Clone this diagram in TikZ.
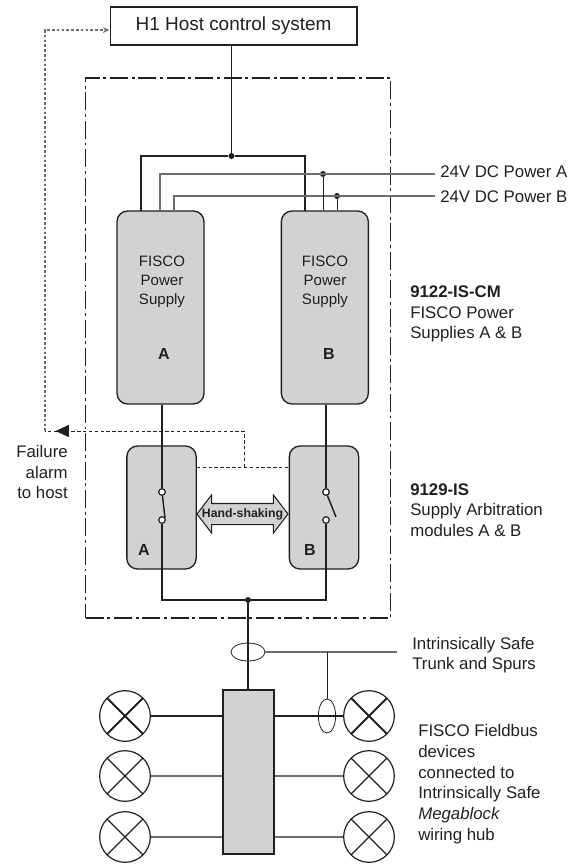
\documentclass[tikz,border=0pt]{standalone}
\usepackage{fontspec}
\setmainfont{Liberation Sans}
\usetikzlibrary{arrows.meta, positioning, shapes.geometric, shapes.arrows}
\definecolor{boxgrey}{HTML}{D1D2D4}
\definecolor{ink}{HTML}{231F20}
\definecolor{feedgrey}{HTML}{6D6E71}

\begin{document}
\begin{tikzpicture}[
  x=0.75pt, y=-0.75pt,
  node distance=57pt and 57pt,
  every node/.style={font=\fontsize{12.6}{15.5}\selectfont, text=ink},
  hostbox/.style={rectangle, draw=ink, line width=1pt, minimum width=185pt, minimum height=28.5pt},
  frame/.style={rectangle, draw=ink, line width=0.9pt, dash pattern=on 13.5pt off 2.8pt on 2.2pt off 2.8pt, minimum width=228.75pt, minimum height=405pt},
  supply/.style={rectangle, draw=ink, fill=boxgrey, line width=1pt, rounded corners=8pt, minimum width=65.25pt, minimum height=144.75pt, align=center},
  arbiter/.style={rectangle, draw=ink, fill=boxgrey, line width=1pt, rounded corners=8pt, minimum width=52pt, minimum height=92.25pt},
  hub/.style={rectangle, draw=ink, fill=boxgrey, line width=1.1pt, minimum width=38.25pt, minimum height=123pt},
  contact/.style={circle, draw=ink, fill=white, line width=0.8pt, inner sep=0pt, minimum size=4.8pt},
  junction/.style={circle, fill=ink, inner sep=0pt, minimum size=4.5pt},
  device/.style={circle, draw=ink, line width=0.9pt, inner sep=0pt, minimum size=38pt,
    path picture={\draw[ink, line width=#1] (path picture bounding box.north west) -- (path picture bounding box.south east)
      (path picture bounding box.north east) -- (path picture bounding box.south west);}},
  ring/.style={ellipse, draw=ink, line width=0.6pt, inner sep=0pt},
  wire/.style={draw=ink, line width=1.1pt},
  heavy/.style={draw=ink, line width=1.5pt},
  feed/.style={draw=feedgrey, line width=0.8pt},
  thinwire/.style={draw=ink, line width=0.7pt},
  signal/.style={draw=ink, line width=0.6pt, dash pattern=on 2.6pt off 1.8pt},
  hostlink/.style={draw=feedgrey, line width=0.8pt, dash pattern=on 2pt off 1.6pt},
  label/.style={align=left, anchor=west, inner sep=0pt},
  tag/.style={font=\fontsize{12}{14}\selectfont\bfseries, inner sep=0pt},
  boxtext/.style={align=center, font=\fontsize{11.3}{14.4}\selectfont}
]
\useasboundingbox (0,0) rectangle (583,864);

% Enclosure and host
\node[frame] (enclosure) at (238,348) {};
\node[hostbox, font=\fontsize{14.2}{16}\selectfont] (host) at (233.5,26) {H1 Host control system};

% Power supplies
\node[supply] (psA) at (160.5,307.5) {};
\node[supply, right=of psA] (psB) {};
\node[boxtext] (psAtext) at (162,282) {FISCO\\Power\\Supply};
\node[boxtext] (psBtext) at (325,282) {FISCO\\Power\\Supply};
\node[tag] (psAtag) at (164,354) {A};
\node[tag] (psBtag) at (329,354) {B};

% Arbitration modules
\node[arbiter] (arbA) at (161.5,507.5) {};
\node[arbiter] (arbB) at (324,507.5) {};
\node[tag] (arbAtag) at (144,550) {A};
\node[tag] (arbBtag) at (310,550) {B};
\node[double arrow, draw=ink, fill=boxgrey, line width=0.8pt, inner sep=0pt, double arrow head extend=6.4pt,
  double arrow tip angle=105, minimum height=68.25pt, minimum width=27.75pt] (shake) at (242.5,514) {\rule{0pt}{15pt}};
\node[font=\fontsize{9.2}{11}\selectfont\bfseries, inner sep=0pt] (shaketext) at (shake) {Hand-shaking};

% Bus and supply inputs
\coordinate (busL) at (141,211);
\coordinate (busR) at (305,211);
\coordinate (feedA) at (160,211);
\coordinate (feedB) at (174,211);
\coordinate (powerA) at (435,174);
\coordinate (powerB) at (435,196);
\node[junction] (hostdot) at (231.5,156) {};
\node[junction] (dotA) at (323,174) {};
\node[junction] (dotB) at (337,196) {};
\draw[wire] (host.south -| hostdot) -- (hostdot);
\draw[heavy] (busL) |- (hostdot) -| (busR);
\draw[feed] (feedA) |- (powerA);
\draw[feed] (feedB) |- (powerB);
\draw[thinwire] (dotA) -- (dotA |- psB.north);
\draw[thinwire] (dotB) -- (dotB |- psB.north);

% Switches
\node[contact] (swA1) at (162,492) {};
\node[contact] (swA2) at (162,520) {};
\node[contact] (swB1) at (326,492) {};
\node[contact] (swB2) at (326,520) {};
\coordinate (bladeA) at (165,518);
\coordinate (bladeB) at (336,517);
\node[junction] (outdot) at (248,600) {};
\draw[wire] (psA.south -| swA1) -- (swA1);
\draw[wire] (psB.south -| swB1) -- (swB1);
\draw[wire] (swA1) -- (bladeA);
\draw[wire] (swB1) -- (bladeB);
\draw[wire] (swA2) |- (outdot);
\draw[wire] (swB2) |- (outdot);
\node[contact] at (swA1) {};
\node[contact] at (swA2) {};
\node[contact] at (swB1) {};
\node[contact] at (swB2) {};

% Failure alarm
\coordinate (tap) at (244,467);
\coordinate (tip) at (55,431);
\coordinate (corner) at (45,431);
\draw[signal] (arbA.east |- tap) -- (arbB.west |- tap);
\draw[signal] (tap) |- (corner);
\node[isosceles triangle, isosceles triangle apex angle=50, shape border rotate=180, fill=ink, inner sep=0pt, minimum height=10pt, anchor=apex] (alarmtip) at (tip) {};
\draw[hostlink, -{Stealth[length=5pt, width=4.5pt]}] (corner) |- (host.west |- 0,30);

% Hub and devices
\node[hub] (hubbox) at (248.5,772) {};
\foreach \name/\x/\y/\w in {devL1/125/716/1.5pt, devL2/125/776/0.9pt, devL3/125/837/0.9pt,
  devR1/369/716/1.5pt, devR2/369/776/0.9pt, devR3/369/837/0.9pt} {
  \node[device=\w] (\name) at (\x,\y) {};
}
\draw[heavy] (devL1) -- (hubbox.west |- devL1);
\draw[heavy] (devR1) -- (hubbox.east |- devR1);
\foreach \a in {devL2, devL3} {
  \draw[feed, line width=1pt] (\a) -- (hubbox.west |- \a);
}
\foreach \a in {devR2, devR3} {
  \draw[feed, line width=1pt] (\a) -- (hubbox.east |- \a);
}
\draw[wire] (outdot) -- (hubbox.north -| outdot);

% Trunk and spur rings
\node[ring, minimum width=25.5pt, minimum height=13.5pt] (trunkring) at (248,652) {};
\node[ring, minimum width=13pt, minimum height=25.5pt] (spurring) at (327,716) {};
\coordinate (trunkend) at (397,652);
\draw[feed] (trunkring) -- (trunkend);
\draw[thinwire] (spurring.north |- trunkring) -- (spurring);

% Labels
\node[label] (powerAlabel) at (440,172) {24V DC Power A};
\node[label] (powerBlabel) at (440,197) {24V DC Power B};
\node[label] (cmlabel) at (410,314) {\textbf{9122-IS-CM}\\FISCO Power\\Supplies A \& B};
\node[label] (islabel) at (410,510) {\textbf{9129-IS}\\Supply Arbitration\\modules A \& B};
\node[align=right, anchor=east, inner sep=0pt] (alarmlabel) at (68,472) {Failure\\alarm\\to host};
\node[label] (trunklabel) at (412,655) {Intrinsically Safe\\Trunk and Spurs};
\node[label] (hublabel) at (418,784) {FISCO Fieldbus\\devices\\connected to\\Intrinsically Safe\\\textit{Megablock}\\wiring hub};

\end{tikzpicture}
\end{document}
